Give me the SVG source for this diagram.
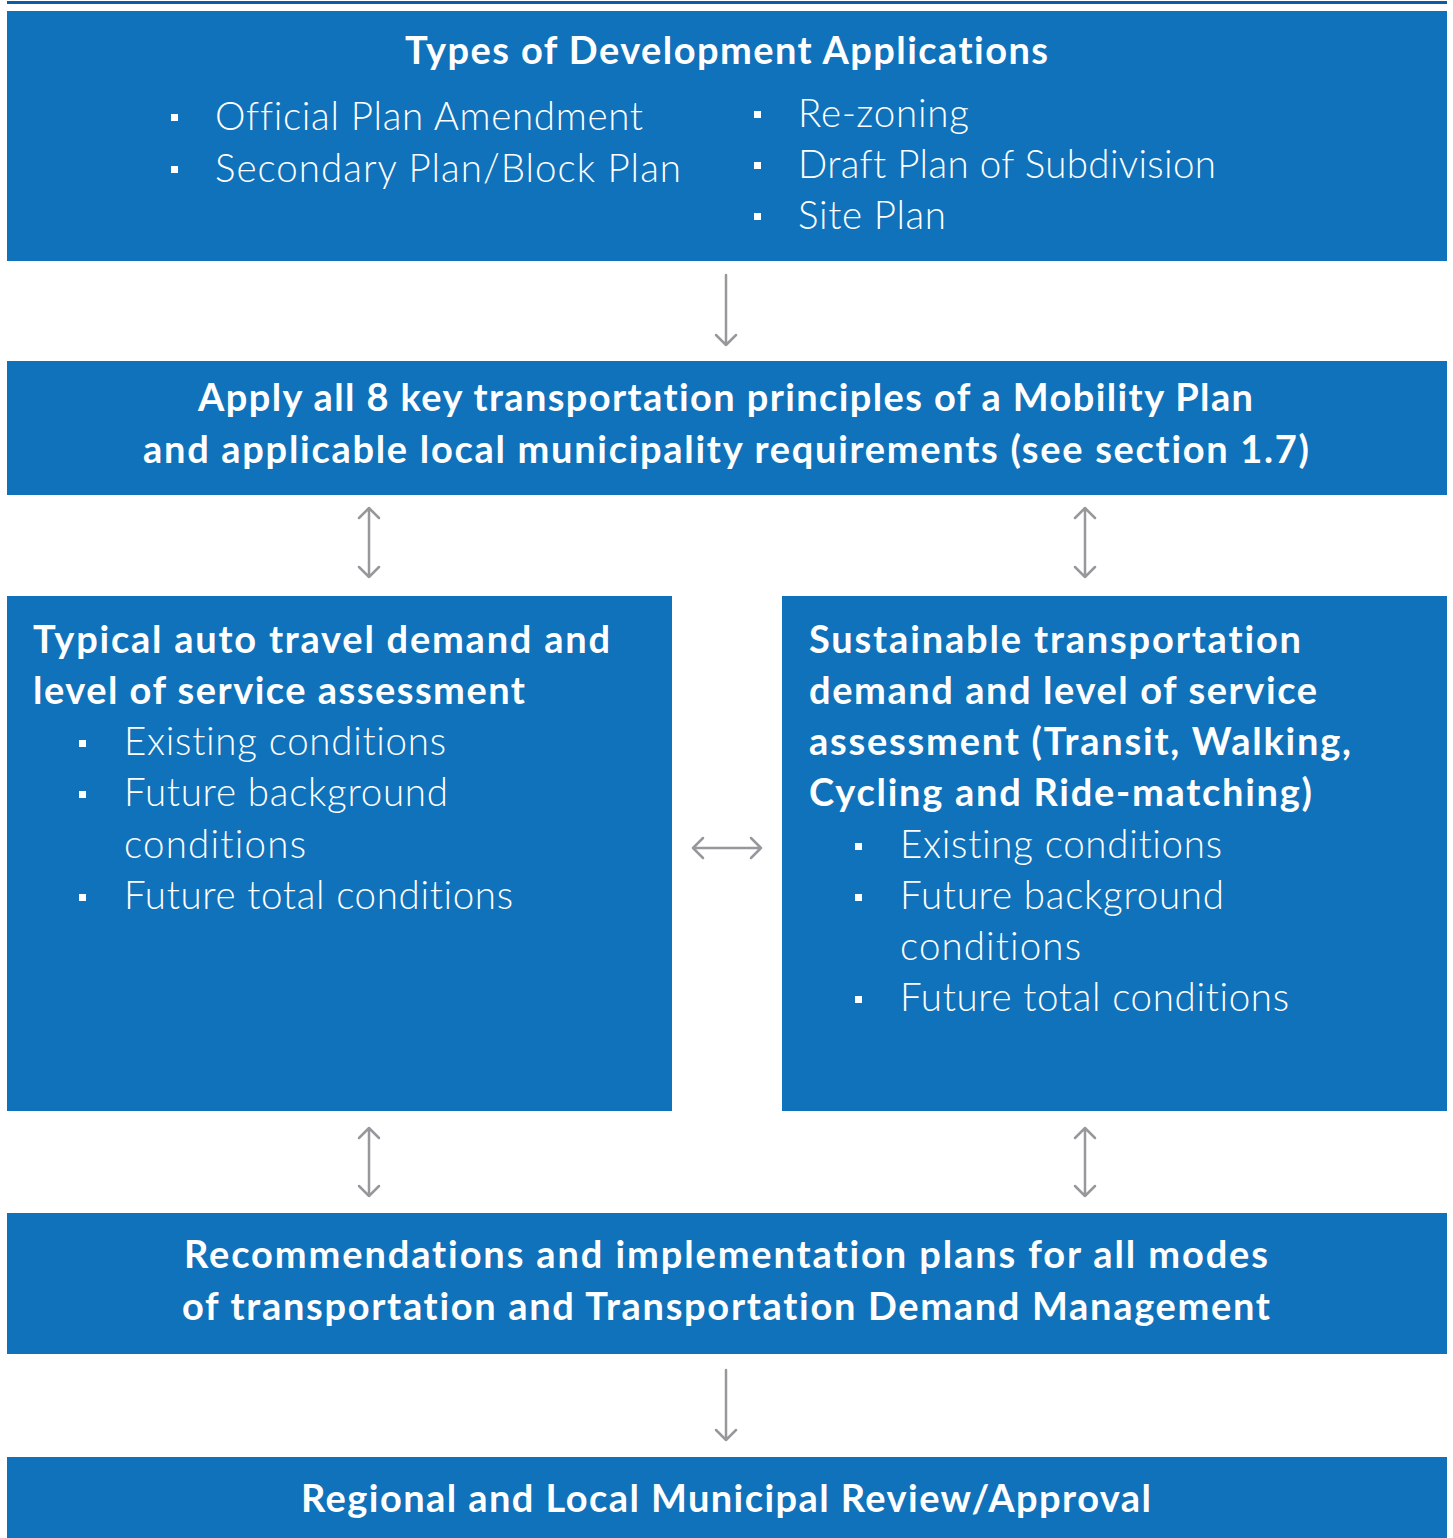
<svg xmlns="http://www.w3.org/2000/svg" width="1453" height="1538" viewBox="0 0 1453 1538">
<style>
.box{fill:#1072BA}
.h{font-family:Lato,"Liberation Sans",sans-serif;font-weight:700;font-size:38px;fill:#fff;font-variant-ligatures:none}
.l{font-family:Lato,"Liberation Sans",sans-serif;font-weight:300;font-size:38.5px;fill:#fff;font-variant-ligatures:none}
.c{text-anchor:middle}
.b{fill:#fff}
.ar{stroke:#97989B;stroke-width:2.5;fill:none;stroke-linecap:round;stroke-linejoin:round}
</style>
<rect width="1453" height="1538" fill="#fff"/>
<rect x="7" y="1" width="1440" height="3" fill="#0E5CA8"/>
<g id="n1">
<rect class="box" x="7" y="11" width="1440" height="250"/>
<text class="h c" x="726.5" y="64" textLength="643" lengthAdjust="spacing">Types of Development Applications</text>
<rect class="b" x="171" y="114" width="7" height="7"/>
<text class="l" x="215" y="130" textLength="428" lengthAdjust="spacing">Official Plan Amendment</text>
<rect class="b" x="171" y="166" width="7" height="7"/>
<text class="l" x="215" y="182" textLength="466" lengthAdjust="spacing">Secondary Plan/Block Plan</text>
<rect class="b" x="754" y="111" width="7" height="7"/>
<text class="l" x="798" y="127" textLength="171" lengthAdjust="spacing">Re-zoning</text>
<rect class="b" x="754" y="162" width="7" height="7"/>
<text class="l" x="798" y="178" textLength="418" lengthAdjust="spacing">Draft Plan of Subdivision</text>
<rect class="b" x="754" y="213" width="7" height="7"/>
<text class="l" x="798" y="229" textLength="148" lengthAdjust="spacing">Site Plan</text>
</g>
<g id="n2">
<rect class="box" x="7" y="361" width="1440" height="134"/>
<text class="h c" x="725.5" y="411" textLength="1055" lengthAdjust="spacing">Apply all 8 key transportation principles of a Mobility Plan</text>
<text class="h c" x="726" y="463" textLength="1166" lengthAdjust="spacing">and applicable local municipality requirements (see section 1.7)</text>
</g>
<g id="n3">
<rect class="box" x="7" y="596" width="665" height="515"/>
<text class="h" x="33" y="653" textLength="577" lengthAdjust="spacing">Typical auto travel demand and</text>
<text class="h" x="33" y="704" textLength="492" lengthAdjust="spacing">level of service assessment</text>
<rect class="b" x="79" y="740" width="7" height="7"/>
<text class="l" x="124" y="755" textLength="322" lengthAdjust="spacing">Existing conditions</text>
<rect class="b" x="79" y="791" width="7" height="7"/>
<text class="l" x="124" y="806" textLength="324" lengthAdjust="spacing">Future background</text>
<text class="l" x="124" y="858" textLength="182" lengthAdjust="spacing">conditions</text>
<rect class="b" x="79" y="894" width="7" height="7"/>
<text class="l" x="124" y="909" textLength="389" lengthAdjust="spacing">Future total conditions</text>
</g>
<g id="n4">
<rect class="box" x="782" y="596" width="665" height="515"/>
<text class="h" x="809" y="653" textLength="492" lengthAdjust="spacing">Sustainable transportation</text>
<text class="h" x="809" y="704" textLength="508" lengthAdjust="spacing">demand and level of service</text>
<text class="h" x="809" y="755" textLength="542" lengthAdjust="spacing">assessment (Transit, Walking,</text>
<text class="h" x="809" y="806" textLength="503" lengthAdjust="spacing">Cycling and Ride-matching)</text>
<rect class="b" x="855" y="843" width="7" height="7"/>
<text class="l" x="900" y="858" textLength="322" lengthAdjust="spacing">Existing conditions</text>
<rect class="b" x="855" y="894" width="7" height="7"/>
<text class="l" x="900" y="909" textLength="324" lengthAdjust="spacing">Future background</text>
<text class="l" x="900" y="960" textLength="181" lengthAdjust="spacing">conditions</text>
<rect class="b" x="855" y="996" width="7" height="7"/>
<text class="l" x="900" y="1011" textLength="389" lengthAdjust="spacing">Future total conditions</text>
</g>
<g id="n5">
<rect class="box" x="7" y="1213" width="1440" height="141"/>
<text class="h c" x="726" y="1268" textLength="1084" lengthAdjust="spacing">Recommendations and implementation plans for all modes</text>
<text class="h c" x="726" y="1320" textLength="1088" lengthAdjust="spacing">of transportation and Transportation Demand Management</text>
</g>
<g id="n6">
<rect class="box" x="7" y="1457" width="1440" height="81"/>
<text class="h c" x="726" y="1512" textLength="850" lengthAdjust="spacing">Regional and Local Municipal Review/Approval</text>
</g>
<g id="connectors" class="ar">
<path d="M726 275V345M716 335L726 345L736 335"/>
<path d="M369 508V577M359 518L369 508L379 518M359 567L369 577L379 567"/>
<path d="M1085 508V577M1075 518L1085 508L1095 518M1075 567L1085 577L1095 567"/>
<path d="M693 848H761M703 838L693 848L703 858M751 838L761 848L751 858"/>
<path d="M369 1128V1196M359 1138L369 1128L379 1138M359 1186L369 1196L379 1186"/>
<path d="M1085 1128V1196M1075 1138L1085 1128L1095 1138M1075 1186L1085 1196L1095 1186"/>
<path d="M726 1370V1440M716 1430L726 1440L736 1430"/>
</g>
</svg>
